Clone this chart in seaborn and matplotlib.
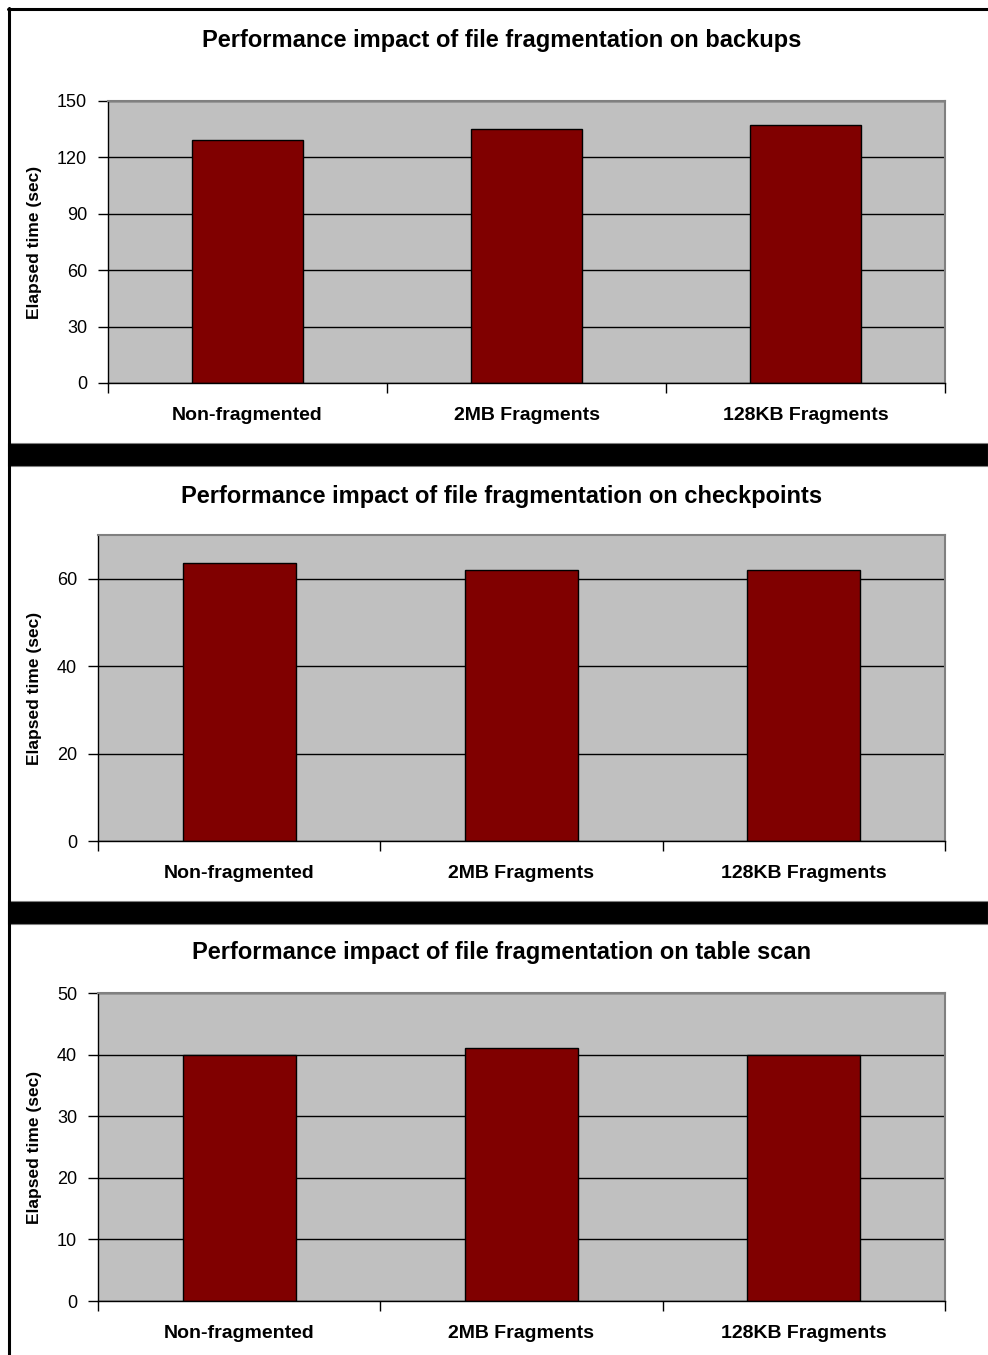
import matplotlib
matplotlib.use("Agg")
import matplotlib.pyplot as plt
from matplotlib.patches import Rectangle
from matplotlib.lines import Line2D
import seaborn as sns

# data
categories = ["Non-fragmented", "2MB Fragments", "128KB Fragments"]
backups = [129, 135, 137]
checkpoints = [63.5, 62, 62]
table_scan = [40, 41, 40]

titles = [
    "Performance impact of file fragmentation on backups",
    "Performance impact of file fragmentation on checkpoints",
    "Performance impact of file fragmentation on table scan",
]
y_ticks = [[0, 30, 60, 90, 120, 150], [0, 20, 40, 60], [0, 10, 20, 30, 40, 50]]
y_max = [150, 70, 50]

W, H = 988, 1355
sns.set_style("white")
plt.rcParams["font.family"] = ["Liberation Sans", "DejaVu Sans"]
plt.rcParams["text.color"] = "black"
plt.rcParams["axes.labelcolor"] = "black"
plt.rcParams["xtick.color"] = "black"
plt.rcParams["ytick.color"] = "black"

fig = plt.figure(figsize=(W / 100, H / 100), dpi=100)

# panel rectangles in pixels: left, top, right, bottom
boxes = [(108, 101, 945, 383), (98, 535, 945, 841), (98, 993, 945, 1301)]
title_y = [41, 497, 953]


def px_axes(l, t, r, b):
    return fig.add_axes([l / W, 1 - b / H, (r - l) / W, (b - t) / H])


# outer frame and black separators
fig.add_artist(Line2D([9 / W, 9 / W], [0, 1 - 8 / H], color="black", lw=2.2,
                      transform=fig.transFigure))
fig.add_artist(Line2D([8 / W, 1], [1 - 9 / H, 1 - 9 / H], color="black", lw=2.2,
                      transform=fig.transFigure))
for top, bot in [(443, 466), (901, 924)]:
    fig.add_artist(Rectangle((8 / W, 1 - bot / H), 1 - 8 / W, (bot - top) / H,
                             facecolor="black", edgecolor="#808080", lw=0.8,
                             transform=fig.transFigure))

series = [backups, checkpoints, table_scan]
for i, vals in enumerate(series):
    l, t, r, b = boxes[i]
    ax = px_axes(l, t, r, b)
    ax.set_facecolor("#c0c0c0")
    ax.set_axisbelow(True)
    sns.barplot(x=categories, y=vals, ax=ax, color="#800000", saturation=1,
                width=0.4, edgecolor="black", linewidth=1)
    ax.set_xlim(-0.5, 2.5)
    ax.set_ylim(0, y_max[i])
    ax.set_yticks(y_ticks[i])
    ax.yaxis.grid(True, color="black", lw=1)
    ax.xaxis.grid(False)

    for s in ["left", "bottom"]:
        ax.spines[s].set_color("black")
        ax.spines[s].set_linewidth(1)
    for s in ["top", "right"]:
        ax.spines[s].set_color("#808080")
        ax.spines[s].set_linewidth(1.5)

    ax.tick_params(axis="y", which="major", length=7, width=1, color="black",
                   direction="out", left=True, labelsize=13, pad=8)
    ax.tick_params(axis="x", which="major", length=0, labelsize=14, pad=17)
    ax.set_xticks([-0.5, 0.5, 1.5, 2.5], minor=True)
    ax.tick_params(axis="x", which="minor", length=7, width=1, color="black",
                   direction="out", bottom=True)
    for lab in ax.get_xticklabels():
        lab.set_fontweight("bold")

    ax.set_xlabel("")
    ax.set_ylabel("Elapsed time (sec)", fontsize=12.5, fontweight="bold")
    ax.yaxis.set_label_coords((42 - l) / (r - l), 0.5)

    fig.text(502 / W, 1 - title_y[i] / H, titles[i], ha="center", va="center",
             fontsize=17, fontweight="bold")

fig.savefig("out.png", dpi=100, facecolor="white")
